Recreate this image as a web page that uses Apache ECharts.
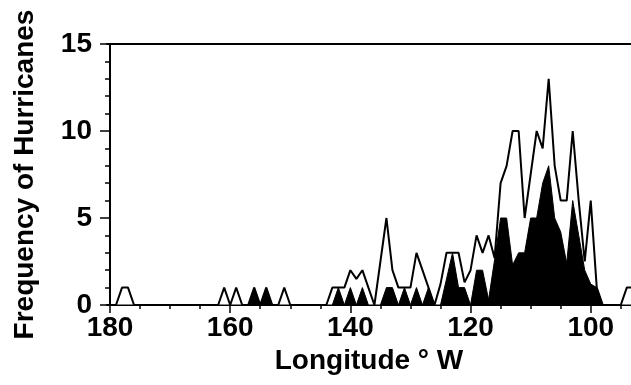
<!DOCTYPE html>
<html>
<head>
<meta charset="utf-8">
<script src="https://cdn.jsdelivr.net/npm/echarts@6/dist/echarts.min.js"></script>
<style>
  html, body { margin: 0; padding: 0; background: #fff; }
  #chart { width: 631px; height: 385px; }
</style>
</head>
<body>
<div id="chart"></div>
<script>
// longitude (degrees W), one bin per degree
const longitudes = [
  180, 179, 178, 177, 176, 175, 174, 173, 172, 171,
  170, 169, 168, 167, 166, 165, 164, 163, 162, 161,
  160, 159, 158, 157, 156, 155, 154, 153, 152, 151,
  150, 149, 148, 147, 146, 145, 144, 143, 142, 141,
  140, 139, 138, 137, 136, 135, 134, 133, 132, 131,
  130, 129, 128, 127, 126, 125, 124, 123, 122, 121,
  120, 119, 118, 117, 116, 115, 114, 113, 112, 111,
  110, 109, 108, 107, 106, 105, 104, 103, 102, 101,
  100, 99, 98, 97, 96, 95, 94, 93
];
// all hurricanes (open outline)
const allHurricanes = [
  0, 0, 1, 1, 0, 0, 0, 0, 0, 0,
  0, 0, 0, 0, 0, 0, 0, 0, 0, 1,
  0, 1, 0, 0, 1, 0, 1, 0, 0, 1,
  0, 0, 0, 0, 0, 0, 0, 1, 1, 1,
  2, 1.5, 2, 1, 0, 2.5, 5, 2, 1, 1,
  1, 3, 2, 1, 0, 1.2, 3, 3, 3, 1.3,
  2, 4, 3, 4, 2.7, 7, 8, 10, 10, 5,
  7.5, 10, 9, 13, 8, 6, 6, 10, 6, 2.5,
  6, 1, 0, 0, 0, 0, 1, 1
];
// subset (filled black)
const subsetHurricanes = [
  0, 0, 0, 0, 0, 0, 0, 0, 0, 0,
  0, 0, 0, 0, 0, 0, 0, 0, 0, 0,
  0, 0, 0, 0, 1, 0, 1, 0, 0, 0,
  0, 0, 0, 0, 0, 0, 0, 0, 1, 0,
  1, 0, 1, 0, 0, 0, 1, 1, 0, 1,
  0, 1, 0, 1, 0, 0, 1.5, 3, 1, 1,
  0, 2, 2, 0.3, 2.6, 5, 5, 2.3, 3, 3,
  5, 5, 7, 8, 5, 4.2, 2.4, 6, 4, 2,
  1.2, 1, 0, 0, 0, 0, 0, 0
];
const minorTickLons = [180, 175, 170, 165, 160, 155, 150, 145, 140, 135, 130, 125, 120, 115, 110, 105, 100, 95];
const labelLons = [180, 160, 140, 120, 100];

const FONT = '"Liberation Sans", Arial, sans-serif';
// x axis runs in "degrees from 180" so it reads left to right
const toX = lon => 180 - lon;

const chart = echarts.init(document.getElementById('chart'));

const option = {
  animation: false,
  backgroundColor: '#fff',
  grid: { left: 107, right: 0, top: 44, bottom: 80 },
  xAxis: [
    {
      type: 'value',
      position: 'bottom',
      min: -0.5,
      max: 86.7,
      axisLine: { show: true, lineStyle: { color: '#000', width: 2 } },
      axisTick: { show: true, length: 4, customValues: minorTickLons.map(toX), lineStyle: { color: '#000', width: 1.5 } },
      axisLabel: {
        customValues: labelLons.map(toX),
        formatter: v => String(Math.round(180 - v)),
        color: '#000', fontSize: 28, fontWeight: 'bold', fontFamily: FONT, margin: 9
      },
      splitLine: { show: false },
      name: 'Longitude ° W',
      nameLocation: 'middle',
      nameGap: 40,
      nameTextStyle: { color: '#000', fontSize: 28, fontWeight: 'bold', fontFamily: FONT }
    },
    {
      type: 'value',
      position: 'bottom',
      min: -0.5,
      max: 86.7,
      axisLine: { show: false },
      axisTick: { show: true, length: 8, customValues: labelLons.map(toX), lineStyle: { color: '#000', width: 1.5 } },
      axisLabel: { show: false },
      splitLine: { show: false }
    },
    {
      type: 'value',
      position: 'top',
      min: -0.5,
      max: 86.7,
      axisLine: { show: true, lineStyle: { color: '#000', width: 2 } },
      axisTick: { show: false },
      axisLabel: { show: false },
      splitLine: { show: false }
    }
  ],
  yAxis: {
    type: 'value',
    min: 0,
    max: 15,
    interval: 5,
    axisLine: { show: true, lineStyle: { color: '#000', width: 2 } },
    axisTick: { show: true, length: 10, lineStyle: { color: '#000', width: 1.5 } },
    minorTick: { show: true, splitNumber: 5, length: 5, lineStyle: { color: '#000', width: 1.5 } },
    axisLabel: { color: '#000', fontSize: 28, fontWeight: 'bold', fontFamily: FONT, margin: 15 },
    splitLine: { show: false },
    name: 'Frequency of Hurricanes',
    nameLocation: 'middle',
    nameGap: 68,
    nameTextStyle: { color: '#000', fontSize: 28, fontWeight: 'bold', fontFamily: FONT }
  },
  series: [
    {
      type: 'line',
      data: longitudes.map((lon, i) => [toX(lon), allHurricanes[i]]),
      symbol: 'none',
      lineStyle: { color: '#000', width: 2 },
      areaStyle: { color: '#fff', opacity: 1 },
      z: 2
    },
    {
      type: 'line',
      data: longitudes.map((lon, i) => [toX(lon), subsetHurricanes[i]]),
      symbol: 'none',
      lineStyle: { color: '#000', width: 1 },
      areaStyle: { color: '#000', opacity: 1 },
      z: 3
    }
  ]
};

chart.setOption(option);
</script>
</body>
</html>
